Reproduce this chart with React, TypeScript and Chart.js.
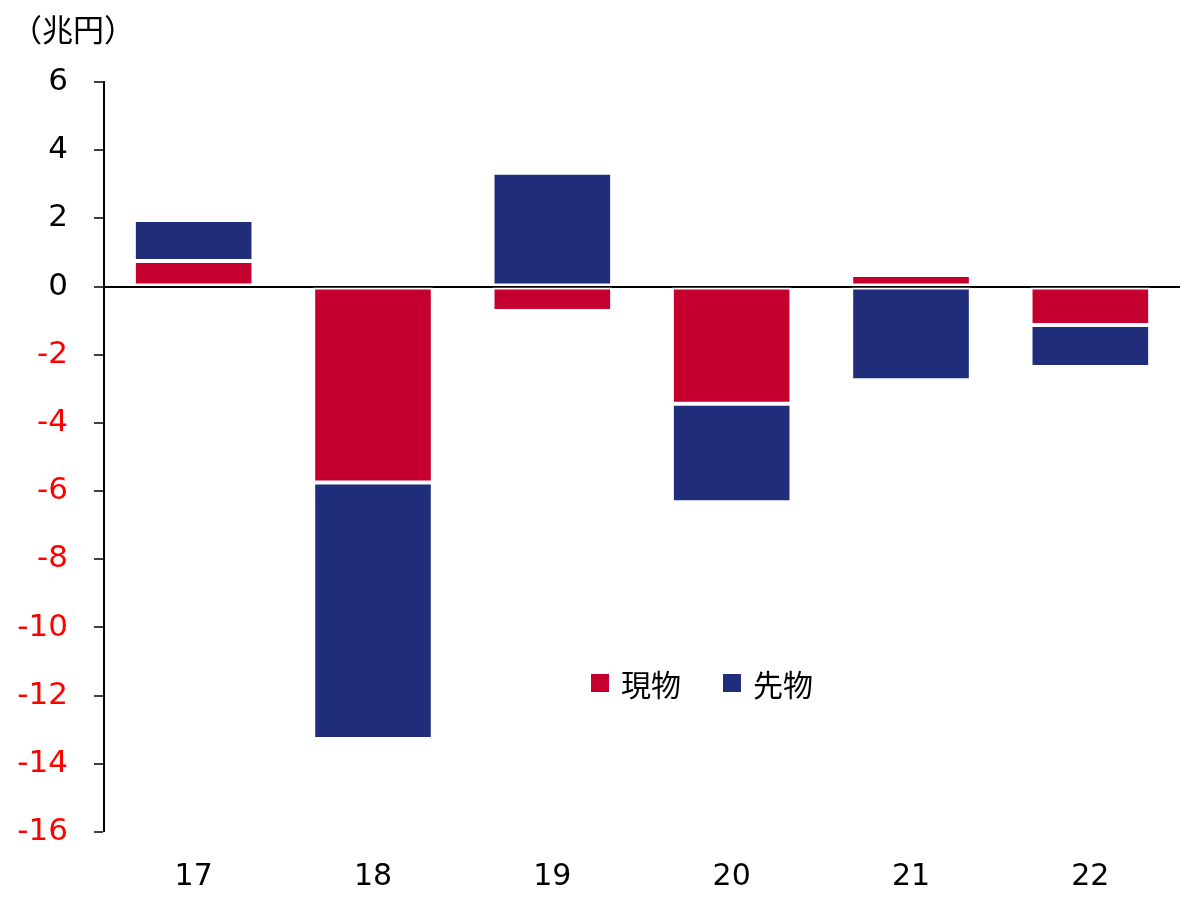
import React, { useEffect, useRef } from "react";
import { Chart, registerables } from "chart.js";

Chart.register(...registerables);

const categories = ["17", "18", "19", "20", "21", "22"];
const spotLabel = "現物";
const futuresLabel = "先物";
const spotValues = [0.75, -5.75, -0.72, -3.44, 0.34, -1.13];
const futuresValues = [1.2, -7.52, 3.34, -2.89, -2.75, -1.23];
const yMin = -16;
const yMax = 6;
const yStep = 2;
const unitLabel = "（兆円）";

const RED = "#C5002E";
const BLUE = "#1F2D7A";
const FONT = "'DejaVu Sans', Verdana, sans-serif";
const CJK = "'Noto Sans CJK JP', sans-serif";

export default function App() {
  const canvasRef = useRef<HTMLCanvasElement | null>(null);

  useEffect(() => {
    const canvas = canvasRef.current;
    if (!canvas) return;
    const chart = new Chart(canvas, {
      type: "bar",
      data: {
        labels: categories,
        datasets: [
          {
            label: spotLabel,
            data: spotValues,
            backgroundColor: RED,
            borderColor: "#ffffff",
            borderWidth: 2,
            borderSkipped: false,
            barPercentage: 0.667,
            categoryPercentage: 1,
          },
          {
            label: futuresLabel,
            data: futuresValues,
            backgroundColor: BLUE,
            borderColor: "#ffffff",
            borderWidth: 2,
            borderSkipped: false,
            barPercentage: 0.667,
            categoryPercentage: 1,
          },
        ],
      },
      options: {
        animation: false,
        responsive: false,
        devicePixelRatio: 1,
        layout: { padding: { top: 82, right: 24, left: 0, bottom: 0 } },
        plugins: {
          legend: { display: false },
          tooltip: { enabled: false },
          title: { display: false },
        },
        scales: {
          x: {
            stacked: true,
            grid: { display: false, drawTicks: false },
            border: { display: false },
            ticks: {
              color: "#000",
              font: { family: FONT, size: 30 },
              padding: 27,
            },
            afterFit: (scale: any) => {
              scale.height = 69;
            },
          },
          y: {
            stacked: true,
            min: yMin,
            max: yMax,
            z: 1,
            border: { display: true, color: "#000", width: 2 },
            grid: {
              drawOnChartArea: true,
              drawTicks: true,
              tickLength: 10,
              tickWidth: 1.5,
              tickColor: "#000",
              lineWidth: (ctx: any) => (ctx.tick && ctx.tick.value === 0 ? 2 : 0),
              color: (ctx: any) =>
                ctx.tick && ctx.tick.value === 0 ? "#000" : "rgba(0,0,0,0)",
            },
            ticks: {
              stepSize: yStep,
              padding: 26,
              font: { family: FONT, size: 31 },
              color: (ctx: any) => (ctx.tick && ctx.tick.value < 0 ? "#FF0000" : "#000"),
            },
            afterFit: (scale: any) => {
              scale.width = 104;
            },
          },
        },
      },
    });
    return () => chart.destroy();
  }, []);

  const legendItems = [
    { label: spotLabel, color: RED },
    { label: futuresLabel, color: BLUE },
  ];

  return (
    <div
      style={{
        position: "fixed",
        left: 0,
        top: 0,
        width: 1204,
        height: 901,
        background: "#fff",
        overflow: "hidden",
      }}
    >
      <canvas ref={canvasRef} width={1204} height={901} style={{ width: 1204, height: 901, display: "block" }} />
      <div
        style={{
          position: "absolute",
          left: 11,
          top: 8,
          fontFamily: CJK,
          fontSize: 31,
          lineHeight: "40px",
          color: "#000",
          whiteSpace: "nowrap",
        }}
      >
        {unitLabel}
      </div>
      <div
        style={{
          position: "absolute",
          left: 591,
          top: 668,
          display: "flex",
          alignItems: "center",
          fontFamily: CJK,
          fontSize: 30,
          lineHeight: "30px",
          color: "#000",
          whiteSpace: "nowrap",
        }}
      >
        {legendItems.map((it, i) => (
          <div key={i} style={{ display: "flex", alignItems: "center", marginRight: i === 0 ? 42 : 0 }}>
            <span style={{ display: "inline-block", width: 18, height: 18, background: it.color, marginRight: 12 }} />
            <span>{it.label}</span>
          </div>
        ))}
      </div>
    </div>
  );
}
